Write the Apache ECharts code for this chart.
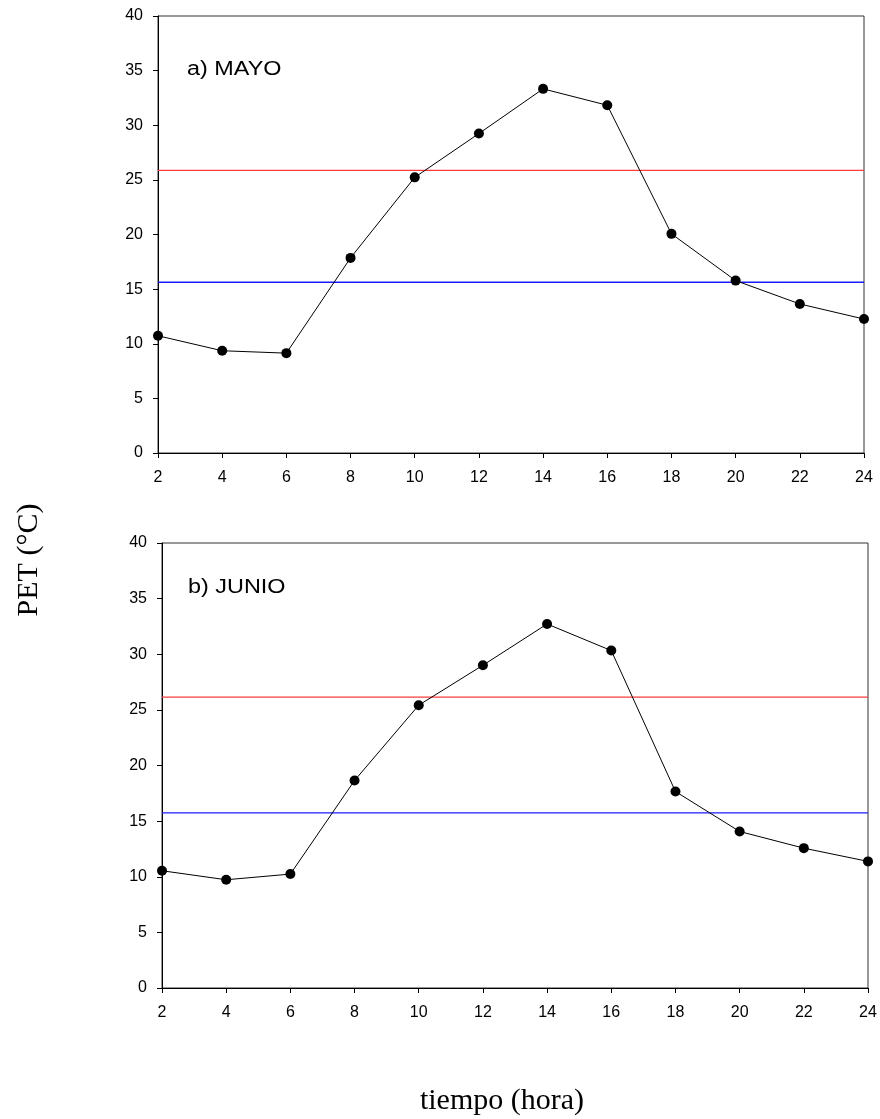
<!DOCTYPE html>
<html>
<head>
<meta charset="utf-8">
<script src="https://cdn.jsdelivr.net/npm/echarts@6/dist/echarts.min.js"></script>
<style>
  html, body { margin: 0; padding: 0; background: #fff; }
  #chart { width: 880px; height: 1119px; }
</style>
</head>
<body>
<div id="chart"></div>
<script>
// Hours of the day (x axis)
const hours = [2, 4, 6, 8, 10, 12, 14, 16, 18, 20, 22, 24];
// PET (°C) per hour, May and June
const petMayo = [10.73, 9.36, 9.14, 17.86, 25.23, 29.24, 33.33, 31.83, 20.06, 15.78, 13.64, 12.26];
const petJunio = [10.54, 9.73, 10.24, 18.65, 25.42, 29.01, 32.72, 30.33, 17.66, 14.07, 12.57, 11.38];
// Reference thresholds (upper in red, lower in blue)
const umbralMayo = { upper: 25.87, lower: 15.63 };
const umbralJunio = { upper: 26.14, lower: 15.75 };
// Panel titles and axis names
const panelTitles = ['a) MAYO', 'b) JUNIO'];
const yName = 'PET (°C)';
const xName = 'tiempo (hora)';

const chart = echarts.init(document.getElementById('chart'), null, { renderer: 'canvas' });

const grids = [
  { left: 158, top: 16, width: 706, height: 437 },
  { left: 162, top: 543, width: 706, height: 445 }
];

const sansFont = '"Liberation Sans", Arial, sans-serif';
const serifFont = '"Liberation Serif", "Times New Roman", serif';

function xAxisFor(i) {
  return {
    type: 'value', gridIndex: i, min: 2, max: 24, interval: 2,
    axisLine: { show: true, onZero: false, lineStyle: { color: '#000', width: 1 } },
    axisTick: { show: true, length: 5, inside: false, lineStyle: { color: '#000' } },
    axisLabel: { color: '#000', fontFamily: sansFont, fontSize: 16, margin: 17 },
    splitLine: { show: false }
  };
}
function yAxisFor(i) {
  return {
    type: 'value', gridIndex: i, min: 0, max: 40, interval: 5,
    axisLine: { show: true, onZero: false, lineStyle: { color: '#000', width: 1 } },
    axisTick: { show: true, length: 5, inside: false, lineStyle: { color: '#000' } },
    axisLabel: { color: '#000', fontFamily: sansFont, fontSize: 16, margin: 15 },
    splitLine: { show: false }
  };
}

function pairs(xs, ys) { return xs.map((x, k) => [x, ys[k]]); }
function flat(v) { return [[hours[0], v], [hours[hours.length - 1], v]]; }

function panelSeries(i, values, th) {
  return [
    {
      type: 'line', xAxisIndex: i, yAxisIndex: i, data: flat(th.upper),
      showSymbol: false, symbol: 'none', silent: true,
      lineStyle: { color: '#ff3b3b', width: 1.3 }, z: 2
    },
    {
      type: 'line', xAxisIndex: i, yAxisIndex: i, data: flat(th.lower),
      showSymbol: false, symbol: 'none', silent: true,
      lineStyle: { color: '#1a1aff', width: 1.3 }, z: 2
    },
    {
      type: 'line', xAxisIndex: i, yAxisIndex: i, data: pairs(hours, values),
      symbol: 'circle', symbolSize: 10, clip: false,
      itemStyle: { color: '#000', borderWidth: 0 },
      lineStyle: { color: '#000', width: 1 }, z: 3
    }
  ];
}

chart.setOption({
  animation: false,
  backgroundColor: '#fff',
  grid: grids.map(g => Object.assign({ show: true, borderColor: '#333', borderWidth: 1, backgroundColor: 'transparent' }, g)),
  xAxis: [xAxisFor(0), xAxisFor(1)],
  yAxis: [yAxisFor(0), yAxisFor(1)],
  series: [
    ...panelSeries(0, petMayo, umbralMayo),
    ...panelSeries(1, petJunio, umbralJunio)
  ],
  graphic: [
    {
      type: 'text', x: 187, y: 69, scaleX: 1.17,
      style: { text: panelTitles[0], fill: '#000', font: '20px ' + sansFont, verticalAlign: 'middle' }
    },
    {
      type: 'text', x: 188, y: 587, scaleX: 1.17,
      style: { text: panelTitles[1], fill: '#000', font: '20px ' + sansFont, verticalAlign: 'middle' }
    },
    {
      type: 'text', x: 29, y: 560, rotation: Math.PI / 2,
      style: { text: yName, fill: '#000', font: '30px ' + serifFont,
               align: 'center', verticalAlign: 'middle' }
    },
    {
      type: 'text', x: 502, y: 1101,
      style: { text: xName, fill: '#000', font: '30px ' + serifFont,
               align: 'center', verticalAlign: 'middle' }
    }
  ]
});
</script>
</body>
</html>
